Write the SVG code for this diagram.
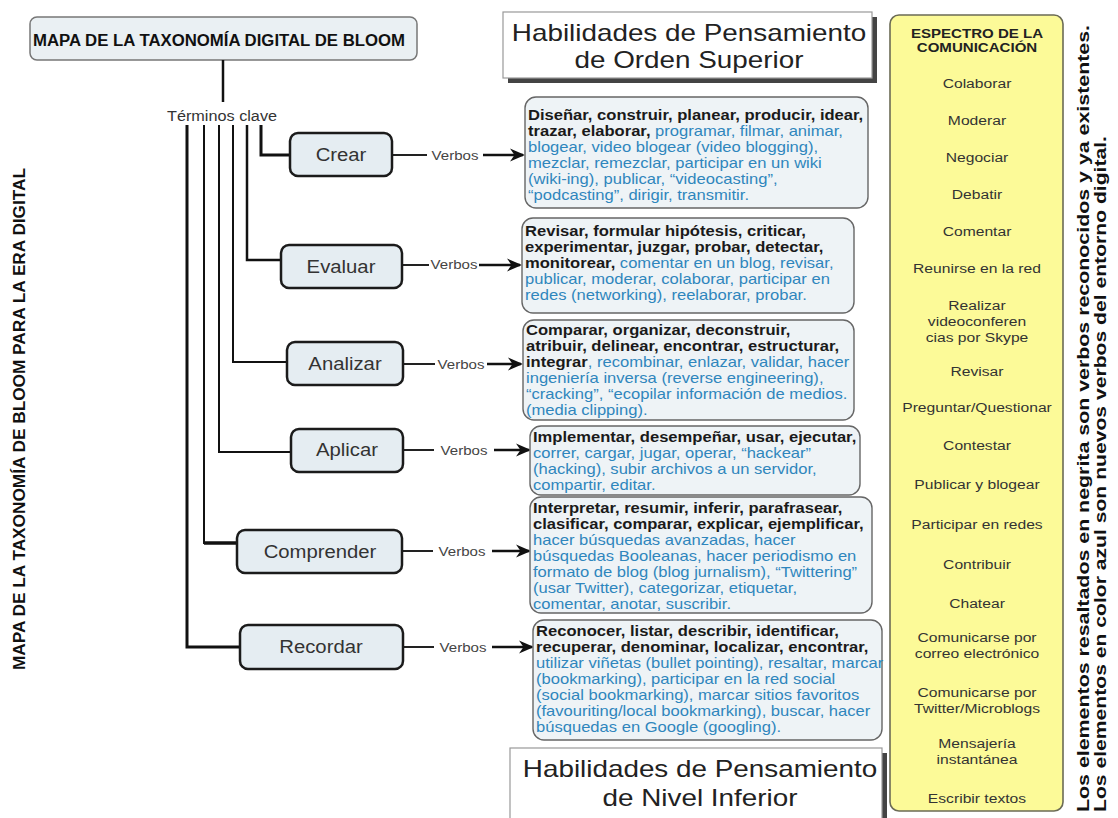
<svg xmlns="http://www.w3.org/2000/svg" width="1118" height="818" viewBox="0 0 1118 818">
<defs>
<marker id="ah" markerWidth="15" markerHeight="14" refX="13" refY="7" orient="auto" markerUnits="userSpaceOnUse">
<path d="M0,0.5 L15,7 L0,13.5 L4.5,7 Z" fill="#111"/>
</marker>
<style>
text{font-family:"Liberation Sans",Arial,sans-serif}
.node rect{fill:#e5edf2;stroke:#1b1b1b;stroke-width:2.5}
.nl{font-size:17.5px;fill:#333;text-anchor:middle}
.vb rect{fill:#eef3f6;stroke:#666;stroke-width:1.4}
.vt{font-size:14.3px}
.b{font-weight:bold;fill:#1a1a1a}
.u{fill:#2f86bd}
.lbl{font-size:13px;fill:#444;text-anchor:middle}
.yi{font-size:13.5px;fill:#333;text-anchor:middle}
.yh{font-size:13px;font-weight:bold;fill:#222;text-anchor:middle}
.hd{font-size:24px;fill:#222;text-anchor:middle}
.con{stroke:#111;fill:none}
.arr{stroke:#111;stroke-width:2.6;marker-end:url(#ah)}
.thin{stroke:#222;stroke-width:2}
</style>
</defs>
<rect width="1118" height="818" fill="#fff"/>

<!-- Title -->
<g id="title">
<rect x="30" y="17" width="387" height="43" rx="7" fill="#eaf0f3" stroke="#777" stroke-width="1.5"/>
<text x="33" y="46" font-size="16" font-weight="bold" fill="#111" textLength="372" lengthAdjust="spacingAndGlyphs">MAPA DE LA TAXONOMÍA DIGITAL DE BLOOM</text>
</g>

<g id="left-title">
<text transform="translate(25,670) rotate(-90)" font-size="16" font-weight="bold" fill="#111" textLength="502" lengthAdjust="spacingAndGlyphs">MAPA DE LA TAXONOMÍA DE BLOOM PARA LA ERA DIGITAL</text>
</g>

<g id="terminos">
<text transform="translate(222,121) scale(1.16,1)" font-size="14" fill="#333" text-anchor="middle">Términos clave</text>
</g>

<!-- Connectors -->
<g id="connectors">
<line class="con" x1="223" y1="60" x2="223" y2="102" stroke-width="2.5"/>
<polyline class="con" points="261,125 261,155 290,155" stroke-width="3"/>
<polyline class="con" points="247,125 247,260 281,260" stroke-width="2.5"/>
<polyline class="con" points="233,125 233,362 287,362" stroke-width="2"/>
<polyline class="con" points="219,125 219,452 291,452" stroke-width="2"/>
<polyline class="con" points="204,125 204,543 237,543" stroke-width="2"/>
<line class="con" x1="204" y1="543" x2="237" y2="543" stroke-width="3.5"/>
<polyline class="con" points="187,125 187,647 240,647" stroke-width="3"/>

<line class="thin" x1="392" y1="155" x2="427" y2="155"/>
<line class="arr" x1="483" y1="155" x2="523" y2="155"/>
<line class="thin" x1="402" y1="265" x2="429" y2="265"/>
<line class="arr" x1="479" y1="265" x2="520" y2="265"/>
<line class="thin" x1="402" y1="364" x2="435" y2="364"/>
<line class="arr" x1="487" y1="364" x2="521" y2="364"/>
<line class="thin" x1="403" y1="450" x2="434" y2="450"/>
<line class="arr" x1="494" y1="450" x2="529" y2="450"/>
<line class="thin" x1="402" y1="551" x2="433" y2="551"/>
<line class="arr" x1="492" y1="551" x2="529" y2="551"/>
<line class="thin" x1="403" y1="647" x2="434" y2="647"/>
<line class="arr" x1="492" y1="647" x2="532" y2="647"/>

<text class="lbl" transform="translate(455,160) scale(1.16,1)">Verbos</text>
<text class="lbl" transform="translate(454,269) scale(1.16,1)" font-size="12">Verbos</text>
<text class="lbl" transform="translate(461,369) scale(1.16,1)">Verbos</text>
<text class="lbl" transform="translate(464,455) scale(1.16,1)">Verbos</text>
<text class="lbl" transform="translate(462,556) scale(1.16,1)">Verbos</text>
<text class="lbl" transform="translate(463,652) scale(1.16,1)">Verbos</text>
</g>

<!-- Level nodes -->
<g id="crear" class="node"><rect x="290" y="133" width="102" height="43" rx="8"/><text class="nl" transform="translate(341,161) scale(1.16,1)">Crear</text></g>
<g id="evaluar" class="node"><rect x="281" y="245" width="121" height="43" rx="8"/><text class="nl" transform="translate(341,273) scale(1.16,1)">Evaluar</text></g>
<g id="analizar" class="node"><rect x="287" y="342" width="116" height="43" rx="8"/><text class="nl" transform="translate(345,370) scale(1.16,1)">Analizar</text></g>
<g id="aplicar" class="node"><rect x="291" y="429" width="112" height="43" rx="8"/><text class="nl" transform="translate(347,456) scale(1.16,1)">Aplicar</text></g>
<g id="comprender" class="node"><rect x="237" y="530" width="165" height="43" rx="8"/><text class="nl" transform="translate(320,558) scale(1.16,1)">Comprender</text></g>
<g id="recordar" class="node"><rect x="240" y="625" width="163" height="44" rx="8"/><text class="nl" transform="translate(321,653) scale(1.16,1)">Recordar</text></g>

<!-- Verb boxes -->
<g id="verbos-crear" class="vb">
<rect x="525" y="97" width="343" height="111" rx="11"/>
<g class="vt" transform="translate(528,0) scale(1.16,1)">
<text y="120"><tspan class="b">Diseñar, construir, planear, producir, idear,</tspan></text>
<text y="136"><tspan class="b">trazar, elaborar,</tspan><tspan class="u"> programar, filmar, animar,</tspan></text>
<text y="152" class="u">blogear, video blogear (video blogging),</text>
<text y="168" class="u">mezclar, remezclar, participar en un wiki</text>
<text y="184" class="u">(wiki-ing), publicar, “videocasting”,</text>
<text y="200" class="u">“podcasting”, dirigir, transmitir.</text>
</g>
</g>

<g id="verbos-evaluar" class="vb">
<rect x="522" y="218" width="332" height="95" rx="11"/>
<g class="vt" transform="translate(525,0) scale(1.16,1)">
<text y="236"><tspan class="b">Revisar, formular hipótesis, criticar,</tspan></text>
<text y="252"><tspan class="b">experimentar, juzgar, probar, detectar,</tspan></text>
<text y="268"><tspan class="b">monitorear,</tspan><tspan class="u"> comentar en un blog, revisar,</tspan></text>
<text y="284" class="u">publicar, moderar, colaborar, participar en</text>
<text y="300" class="u">redes (networking), reelaborar, probar.</text>
</g>
</g>

<g id="verbos-analizar" class="vb">
<rect x="523" y="320" width="331" height="100" rx="11"/>
<g class="vt" transform="translate(526,0) scale(1.16,1)">
<text y="335"><tspan class="b">Comparar, organizar, deconstruir,</tspan></text>
<text y="351"><tspan class="b">atribuir, delinear, encontrar, estructurar,</tspan></text>
<text y="367"><tspan class="b">integrar</tspan><tspan class="u">, recombinar, enlazar, validar, hacer</tspan></text>
<text y="383" class="u">ingeniería inversa (reverse engineering),</text>
<text y="399" class="u">“cracking”, “ecopilar información de medios.</text>
<text y="415" class="u">(media clipping).</text>
</g>
</g>

<g id="verbos-aplicar" class="vb">
<rect x="530" y="426" width="330" height="69" rx="11"/>
<g class="vt" transform="translate(533,0) scale(1.16,1)">
<text y="442"><tspan class="b">Implementar, desempeñar, usar, ejecutar,</tspan></text>
<text y="458" class="u">correr, cargar, jugar, operar, “hackear”</text>
<text y="474" class="u">(hacking), subir archivos a un servidor,</text>
<text y="490" class="u">compartir, editar.</text>
</g>
</g>

<g id="verbos-comprender" class="vb">
<rect x="530" y="497" width="342" height="116" rx="11"/>
<g class="vt" transform="translate(533,0) scale(1.16,1)">
<text y="513"><tspan class="b">Interpretar, resumir, inferir, parafrasear,</tspan></text>
<text y="529"><tspan class="b">clasificar, comparar, explicar, ejemplificar,</tspan></text>
<text y="545" class="u">hacer búsquedas avanzadas, hacer</text>
<text y="561" class="u">búsquedas Booleanas, hacer periodismo en</text>
<text y="577" class="u">formato de blog (blog jurnalism), “Twittering”</text>
<text y="593" class="u">(usar Twitter), categorizar, etiquetar,</text>
<text y="609" class="u">comentar, anotar, suscribir.</text>
</g>
</g>

<g id="verbos-recordar" class="vb">
<rect x="533" y="620" width="349" height="120" rx="11"/>
<g class="vt" transform="translate(536,0) scale(1.16,1)">
<text y="636"><tspan class="b">Reconocer, listar, describir, identificar,</tspan></text>
<text y="652"><tspan class="b">recuperar, denominar, localizar, encontrar,</tspan></text>
<text y="668" class="u">utilizar viñetas (bullet pointing), resaltar, marcar</text>
<text y="684" class="u">(bookmarking), participar en la red social</text>
<text y="700" class="u">(social bookmarking), marcar sitios favoritos</text>
<text y="716" class="u">(favouriting/local bookmarking), buscar, hacer</text>
<text y="732" class="u">búsquedas en Google (googling).</text>
</g>
</g>

<!-- Headers -->
<g id="orden-superior">
<rect x="508" y="17" width="369" height="66" fill="#444"/>
<rect x="503" y="12" width="369" height="66" fill="#fff" stroke="#999" stroke-width="1.2"/>
<text class="hd" transform="translate(689,41) scale(1.16,1)">Habilidades de Pensamiento</text>
<text class="hd" transform="translate(689,68) scale(1.16,1)">de Orden Superior</text>
</g>
<g id="nivel-inferior">
<rect x="515" y="753" width="372" height="80" fill="#444"/>
<rect x="510" y="748" width="372" height="80" fill="#fff" stroke="#999" stroke-width="1.2"/>
<text class="hd" transform="translate(700,777) scale(1.16,1)">Habilidades de Pensamiento</text>
<text class="hd" transform="translate(700,806) scale(1.16,1)">de Nivel Inferior</text>
</g>

<!-- Communication spectrum -->
<g id="espectro">
<rect x="890" y="15" width="173" height="796" rx="9" fill="#fcfa98" stroke="#6b6b55" stroke-width="1.6"/>
<g transform="translate(977,0) scale(1.16,1)">
<text class="yh" y="38">ESPECTRO DE LA</text>
<text class="yh" y="52">COMUNICACIÓN</text>
<text class="yi" y="88">Colaborar</text>
<text class="yi" y="125">Moderar</text>
<text class="yi" y="162">Negociar</text>
<text class="yi" y="199">Debatir</text>
<text class="yi" y="236">Comentar</text>
<text class="yi" y="273">Reunirse en la red</text>
<text class="yi" y="310">Realizar</text>
<text class="yi" y="326">videoconferen</text>
<text class="yi" y="342">cias por Skype</text>
<text class="yi" y="376">Revisar</text>
<text class="yi" y="412">Preguntar/Questionar</text>
<text class="yi" y="450">Contestar</text>
<text class="yi" y="489">Publicar y blogear</text>
<text class="yi" y="529">Participar en redes</text>
<text class="yi" y="569">Contribuir</text>
<text class="yi" y="608">Chatear</text>
<text class="yi" y="642">Comunicarse por</text>
<text class="yi" y="658">correo electrónico</text>
<text class="yi" y="697">Comunicarse por</text>
<text class="yi" y="713">Twitter/Microblogs</text>
<text class="yi" y="748">Mensajería</text>
<text class="yi" y="764">instantánea</text>
<text class="yi" y="803">Escribir textos</text>
</g>
</g>

<g id="nota">
<text transform="translate(1089,812) rotate(-90)" font-size="17" font-weight="bold" fill="#111" textLength="787" lengthAdjust="spacingAndGlyphs">Los elementos resaltados en negrita son verbos reconocidos y ya existentes.</text>
<text transform="translate(1106,812) rotate(-90)" font-size="17" font-weight="bold" fill="#111" textLength="676" lengthAdjust="spacingAndGlyphs">Los elementos en color azul son nuevos verbos del entorno digital.</text>
</g>
</svg>
